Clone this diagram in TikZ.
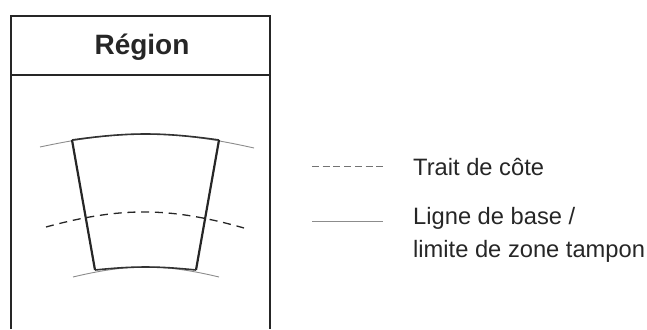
\documentclass[tikz,border=0pt]{standalone}
\usepackage{fontspec}
\setmainfont{Liberation Sans}
\tikzset{
  frameline/.style = {draw=black!85, line width=2.2pt},
  title/.style     = {font=\fontsize{28}{32}\selectfont\bfseries, text=black!85, inner sep=0pt},
  legend/.style    = {font=\fontsize{23.7}{33}\selectfont, text=black!85, align=left, inner sep=0pt, anchor=west},
  baseline/.style  = {draw=black!45, line width=0.9pt},
  coast/.style     = {draw=black!85, line width=1.3pt, dash pattern=on 8pt off 5.8pt},
  legcoast/.style  = {draw=black!55, line width=0.9pt, dash pattern=on 7pt off 3.7pt},
  zone/.style      = {draw=black!85, line width=2.2pt},
  zonearc/.style   = {draw=black!80, line width=1.6pt}
}
\begin{document}
\begin{tikzpicture}[x=1pt,y=-1pt]
  \useasboundingbox (0,0) rectangle (647,329);

  % frame
  \coordinate (tl) at (11,16);
  \coordinate (tr) at (270,16);
  \coordinate (bl) at (11,329);
  \coordinate (br) at (270,329);
  \coordinate (dl) at (11,75);
  \coordinate (dr) at (270,75);
  \draw [frameline] (bl) -- (tl) -- (tr) -- (br);
  \draw [frameline] (dl) -- (dr);
  \node [title] (region) at (142,47.5) {Région};

  % arcs
  \coordinate (a1) at (40,147);
  \coordinate (a2) at (254,148);
  \coordinate (c1) at (46,227);
  \coordinate (c2) at (244,228);
  \coordinate (b1) at (73,277);
  \coordinate (b2) at (219,277);
  \draw [baseline] (a1) to [bend left=12.4] (a2);
  \draw [coast] (c1) to [bend left=15.5] (c2);
  \draw [baseline] (b1) to [bend left=13.5] (b2);

  % zone
  \coordinate (z1) at (72,140);
  \coordinate (z2) at (219,140);
  \coordinate (z3) at (196,270);
  \coordinate (z4) at (95,270);
  \draw [zonearc] (z1) to [bend left=8] (z2);
  \draw [zone] (z2) -- (z3);
  \draw [zonearc] (z3) to [bend right=5.8] (z4);
  \draw [zone] (z4) -- (z1);

  % legend
  \node [legend] (coastlabel) at (413,167) {Trait de côte};
  \node [legend] (baselabel) at (413,235) {Ligne de base /\\limite de zone tampon};
  \coordinate (l1) at (312,166);
  \coordinate (l2) at (383,166);
  \coordinate (l3) at (312,221);
  \coordinate (l4) at (383,221);
  \draw [legcoast] (l1) -- (l2);
  \draw [baseline] (l3) -- (l4);
\end{tikzpicture}
\end{document}
